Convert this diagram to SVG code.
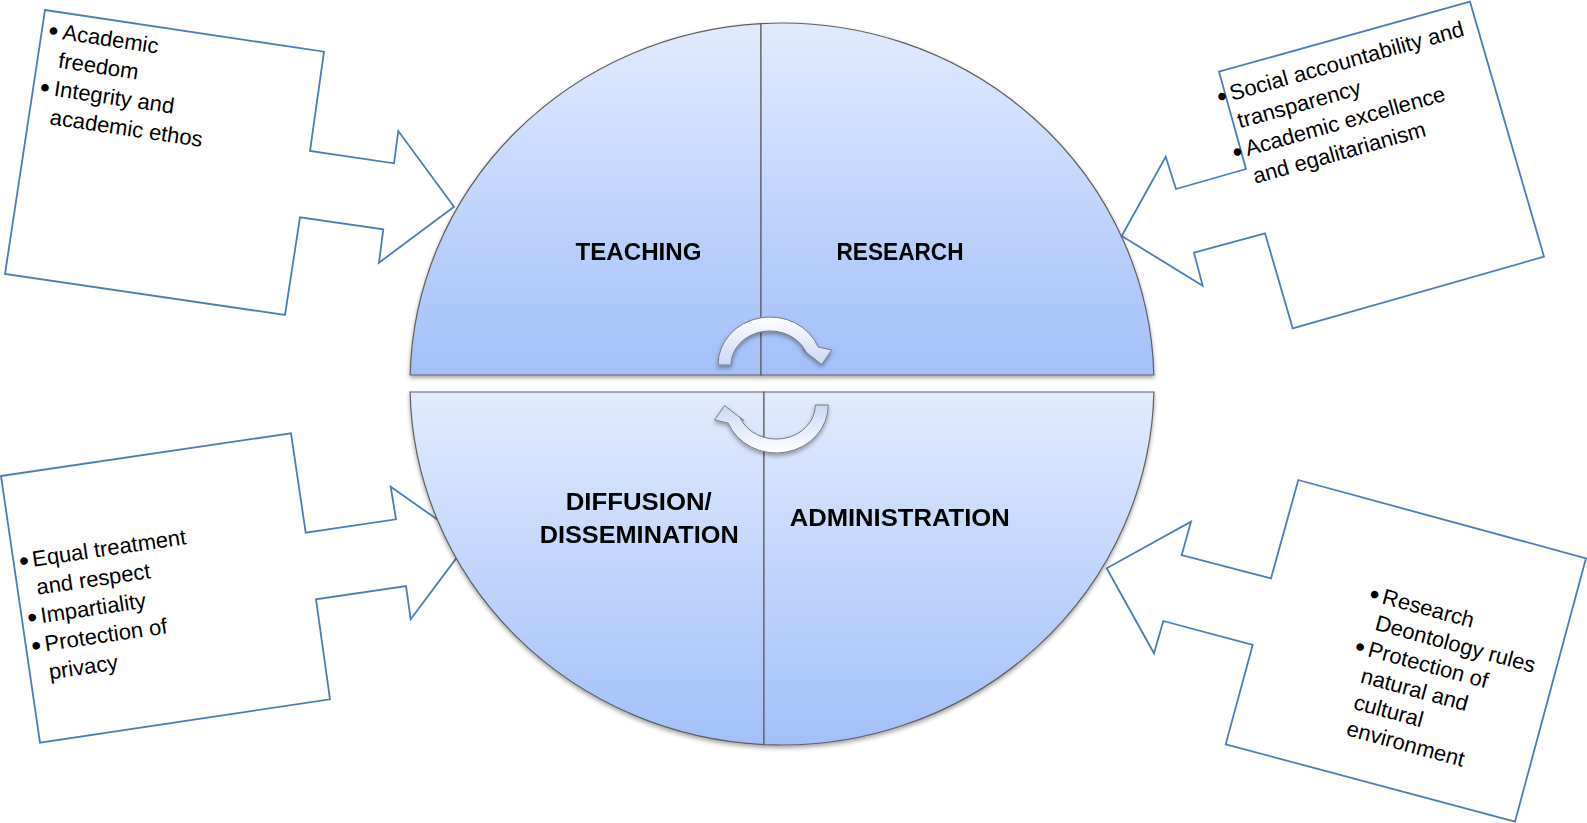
<svg xmlns="http://www.w3.org/2000/svg" width="1587" height="823" viewBox="0 0 1587 823">
<style>
.co{fill:#ffffff;stroke:#4a7dbd;stroke-width:1.8;stroke-linejoin:miter}
.bt{font-family:"Liberation Sans",Arial,sans-serif;font-size:22px;fill:#000}
.bu{font-size:28px}
.hd{font-family:"Liberation Sans",Arial,sans-serif;font-weight:bold;font-size:24px;fill:#000;text-anchor:middle}
.q{fill:url(#qg);stroke:#5f5f5f;stroke-width:1.2}
.ar{fill:url(#ag);stroke:#7b7b7b;stroke-width:1}
</style>
<defs>
<linearGradient id="qg" x1="0" y1="0" x2="0" y2="1">
<stop offset="0" stop-color="#e1ebfe"/>
<stop offset="1" stop-color="#a2c0f9"/>
</linearGradient>
<linearGradient id="ag" x1="0" y1="0" x2="0" y2="1">
<stop offset="0" stop-color="#ffffff"/>
<stop offset="1" stop-color="#c8d8f6"/>
</linearGradient>
<filter id="sh" x="-10%" y="-10%" width="120%" height="125%">
<feDropShadow dx="0" dy="2.5" stdDeviation="2" flood-color="#000" flood-opacity="0.35"/>
</filter>
</defs>

<g id="callout-top-left">
<path class="co" d="M45,10 L324,51.7 L310,151 L394,163.3 L398.3,131 L454,206.7 L379,262.7 L383.3,229.3 L300,217.3 L285,315 L5,274 Z"/>
<text class="bt" transform="translate(48.5,37.3) rotate(8.5)">
<tspan class="bu" x="-1" y="2.5">•</tspan><tspan x="13.4" y="0">Academic</tspan>
<tspan x="13.4" y="28.6">freedom</tspan>
<tspan class="bu" x="-1" y="59.7">•</tspan><tspan x="13.4" y="57.2">Integrity and</tspan>
<tspan x="13.4" y="85.8">academic ethos</tspan>
</text>
</g>

<g id="callout-top-right">
<path class="co" d="M1219,71.7 L1470,1.7 L1544,256.7 L1292.7,328.3 L1265,233.3 L1194,252.7 L1202.7,285.7 L1121.7,236 L1165.7,156.7 L1176,189 L1246,169 Z"/>
<text class="bt" transform="translate(1220,104) rotate(-15.6)">
<tspan class="bu" x="-1" y="2.5">•</tspan><tspan x="12.5" y="0">Social accountability and</tspan>
<tspan x="12.5" y="28.8">transparency</tspan>
<tspan class="bu" x="-1" y="60.1">•</tspan><tspan x="12.5" y="57.6">Academic excellence</tspan>
<tspan x="12.5" y="86.4">and egalitarianism</tspan>
</text>
</g>

<g id="callout-bottom-left">
<path class="co" d="M1,476 L291,433.3 L305.7,532.7 L396,519.3 L390.7,486.7 L468.7,541.6 L410.7,619.3 L406,586 L316,599.3 L330,699.3 L40,742.7 Z"/>
<text class="bt" transform="translate(21,568.5) rotate(-8.4)">
<tspan class="bu" x="-1" y="2.5">•</tspan><tspan x="12.5" y="0">Equal treatment</tspan>
<tspan x="12.5" y="28.5">and respect</tspan>
<tspan class="bu" x="-1" y="59.5">•</tspan><tspan x="12.5" y="57">Impartiality</tspan>
<tspan class="bu" x="-1" y="88">•</tspan><tspan x="12.5" y="85.5">Protection of</tspan>
<tspan x="12.5" y="114">privacy</tspan>
</text>
</g>

<g id="callout-bottom-right">
<path class="co" d="M1298.3,480 L1586,558.3 L1515,821.7 L1225.7,744.3 L1252.7,645 L1163.3,621 L1154,653.3 L1106.7,568.3 L1191,521.7 L1181.7,555 L1271,578.3 Z"/>
<text class="bt" transform="translate(1369,600) rotate(15.2)">
<tspan class="bu" x="-1" y="2.5">•</tspan><tspan x="12.5" y="0">Research</tspan>
<tspan x="12.5" y="27.3">Deontology rules</tspan>
<tspan class="bu" x="-1" y="57.1">•</tspan><tspan x="12.5" y="54.6">Protection of</tspan>
<tspan x="12.5" y="81.9">natural and</tspan>
<tspan x="12.5" y="109.2">cultural</tspan>
<tspan x="12.5" y="136.5">environment</tspan>
</text>
</g>

<g id="top-half" filter="url(#sh)">
<g id="teaching">
<path class="q" d="M761,375 L410.12,375 A372,361 0 0 1 761,23.58 Z"/>
<text class="hd" x="638.5" y="260" textLength="126" lengthAdjust="spacingAndGlyphs">TEACHING</text>
</g>
<g id="research">
<path class="q" d="M761,23.58 A372,361 0 0 1 1153.88,375 L761,375 Z"/>
<text class="hd" x="900" y="260" textLength="127" lengthAdjust="spacingAndGlyphs">RESEARCH</text>
</g>
</g>

<g id="bottom-half" filter="url(#sh)">
<g id="diffusion">
<path class="q" d="M764,392 L764,744.58 A372,361 0 0 1 410.09,392 Z"/>
<text class="hd" x="638.7" y="510" textLength="146" lengthAdjust="spacingAndGlyphs">DIFFUSION/</text>
<text class="hd" x="639.2" y="542.5" textLength="199" lengthAdjust="spacingAndGlyphs">DISSEMINATION</text>
</g>
<g id="administration">
<path class="q" d="M764,392 L1153.91,392 A372,361 0 0 1 764,744.58 Z"/>
<text class="hd" x="899.7" y="526" textLength="220" lengthAdjust="spacingAndGlyphs">ADMINISTRATION</text>
</g>
</g>

<g id="connectors">
<g filter="url(#sh)">
<path id="cycle-arrow-top" class="ar" d="M718,365 A52,48 0 0 1 818.2,347 L831.7,350 L821.7,364.5 L802.3,349.3 L806.2,352.3 A39,34 0 0 0 731,365 Z"/>
</g>
<g filter="url(#sh)">
<path id="cycle-arrow-bottom" class="ar" transform="rotate(180 773.15 385)" d="M718,365 A52,48 0 0 1 818.2,347 L831.7,350 L821.7,364.5 L802.3,349.3 L806.2,352.3 A39,34 0 0 0 731,365 Z"/>
</g>
</g>
</svg>
